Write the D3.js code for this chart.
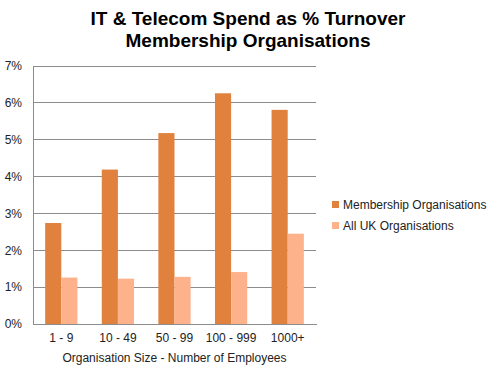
<!DOCTYPE html>
<html>
<head>
<meta charset="utf-8">
<script src="https://cdn.jsdelivr.net/npm/d3@7"></script>
<style>
  body { margin: 0; background: #fff; }
  svg { display: block; font-family: "Liberation Sans", Arial, sans-serif; }
</style>
</head>
<body>
<svg width="500" height="377"></svg>
<script>
const categories = ["1 - 9", "10 - 49", "50 - 99", "100 - 999", "1000+"];
const seriesNames = ["Membership Organisations", "All UK Organisations"];
const membership = [2.74, 4.19, 5.18, 6.26, 5.81];
const allUK = [1.26, 1.23, 1.28, 1.41, 2.45];
const yTicks = [0, 1, 2, 3, 4, 5, 6, 7];
const colors = ["#e0823d", "#fdb28c"];

const margin = { top: 66, right: 184, bottom: 53, left: 33 };
const width = 500 - margin.left - margin.right;
const height = 377 - margin.top - margin.bottom;

const svg = d3.select("svg");
const g = svg.append("g")
    .attr("transform", `translate(${margin.left},${margin.top})`);

const x = d3.scaleBand().domain(categories).range([0, width]).paddingInner(0.43).paddingOuter(0.215);
const xSub = d3.scaleBand().domain(seriesNames).range([0, x.bandwidth()]);
const y = d3.scaleLinear().domain([0, 7]).range([height, 0]);

// gridlines
g.selectAll(".grid")
    .data(yTicks)
    .enter().append("line")
    .attr("x1", 0).attr("x2", width)
    .attr("y1", d => y(d)).attr("y2", d => y(d))
    .attr("stroke", "#8c8c8c")
    .attr("stroke-width", 1)
    .attr("shape-rendering", "crispEdges");

// bars
const data = categories.map((c, i) => ({ cat: c, values: [membership[i], allUK[i]] }));
const groups = g.selectAll(".grp")
    .data(data)
    .enter().append("g")
    .attr("transform", d => `translate(${x(d.cat)},0)`);

groups.selectAll("rect")
    .data(d => d.values.map((v, j) => ({ name: seriesNames[j], v: v, j: j })))
    .enter().append("rect")
    .attr("x", d => xSub(d.name))
    .attr("width", xSub.bandwidth())
    .attr("y", d => y(d.v))
    .attr("height", d => height - y(d.v))
    .attr("fill", d => colors[d.j]);

// y axis
const yAxis = g.append("g")
    .call(d3.axisLeft(y).tickValues(yTicks).tickFormat(d => d + "%").tickSize(0).tickPadding(11));
yAxis.select(".domain").attr("stroke", "#8c8c8c").attr("shape-rendering", "crispEdges");
yAxis.selectAll("text").attr("font-size", 12).attr("fill", "#222").attr("font-family", "Liberation Sans, Arial, sans-serif");

// x axis
const xAxis = g.append("g")
    .attr("transform", `translate(0,${height})`)
    .call(d3.axisBottom(x).tickSize(0).tickPadding(9));
xAxis.select(".domain").attr("stroke", "#8c8c8c").attr("shape-rendering", "crispEdges");
xAxis.selectAll("text").attr("font-size", 12).attr("fill", "#222").attr("font-family", "Liberation Sans, Arial, sans-serif");

// axis title
svg.append("text")
    .attr("x", margin.left + width / 2)
    .attr("y", 362)
    .attr("text-anchor", "middle")
    .attr("font-size", 12)
    .attr("fill", "#222")
    .text("Organisation Size - Number of Employees");

// title
const title = svg.append("text")
    .attr("x", 248)
    .attr("text-anchor", "middle")
    .attr("font-size", 19)
    .attr("font-weight", "bold")
    .attr("fill", "#000");
title.append("tspan").attr("x", 248).attr("y", 25).text("IT & Telecom Spend as % Turnover");
title.append("tspan").attr("x", 248).attr("y", 47).text("Membership Organisations");

// legend
const legend = svg.append("g").attr("transform", "translate(332,0)");
seriesNames.forEach((name, i) => {
    const ly = 205 + i * 21;
    legend.append("rect")
        .attr("x", 0).attr("y", ly - 4)
        .attr("width", 7).attr("height", 7)
        .attr("fill", colors[i]);
    legend.append("text")
        .attr("x", 11).attr("y", ly + 4)
        .attr("font-size", 12)
        .attr("fill", "#222")
        .text(name);
});
</script>
</body>
</html>
